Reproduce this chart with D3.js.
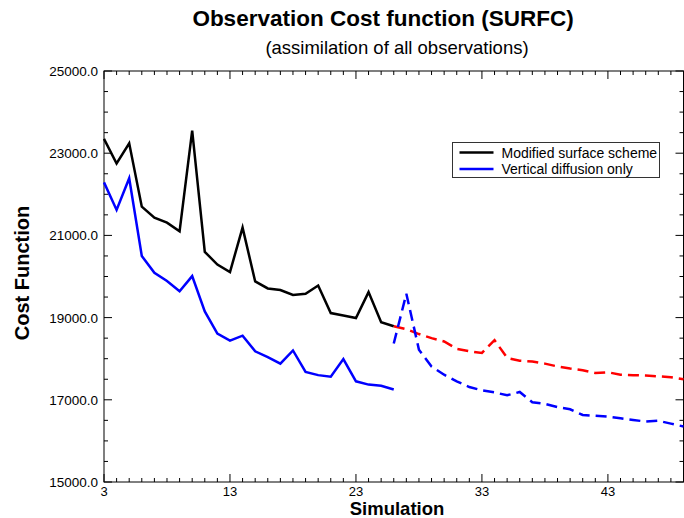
<html>
<head>
<style>
    body {margin: 0; background: #fff;}
    text {font-family: "Liberation Sans", Arial, sans-serif; fill: black;}
</style>
<script src="https://d3js.org/d3.v7.min.js"></script>
</head>
<body>
<script>

    // simulations (x) and cost function values
    var simSolid = d3.range(3, 27);
    var simDashed = d3.range(26, 50);

    var modifiedCost = [23350, 22750, 23240, 21700, 21430, 21310, 21100, 23550, 20600, 20290,
        20110, 21190, 19880, 19710, 19670, 19550, 19580, 19780, 19110, 19050, 18990, 19620, 18890, 18790];
    var verticalCost = [22290, 21620, 22390, 20500, 20090, 19890, 19640, 20010, 19150, 18610,
        18440, 18560, 18180, 18040, 17880, 18200, 17680, 17600, 17560, 17990, 17450, 17370, 17340, 17250];
    var modifiedCostDashed = [18790, 18720, 18600, 18500, 18420, 18240, 18180, 18140, 18450, 18020,
        17950, 17930, 17880, 17810, 17760, 17720, 17650, 17670, 17610, 17600, 17590, 17570, 17550, 17500];
    var verticalCostDashed = [18370, 19580, 18220, 17810, 17610, 17450, 17310, 17230, 17180, 17110,
        17190, 16940, 16900, 16820, 16770, 16630, 16610, 16590, 16550, 16510, 16470, 16490, 16420, 16350];

    var xTicks = [3, 13, 23, 33, 43];
    var yTicks = [15000, 17000, 19000, 21000, 23000, 25000];
    var legendLabels = ["Modified surface scheme", "Vertical diffusion only"];
    var legendColors = ["black", "blue"];

    var width = 684, height = 518;
    var plotLeft = 104, plotRight = 683.5, plotTop = 71, plotBottom = 482;

    var svg = d3.select("body").append("svg")
        .attr("width", width)
        .attr("height", height);

    var x = d3.scaleLinear().domain([3, 49]).range([plotLeft, plotRight]);
    var y = d3.scaleLinear().domain([15000, 25000]).range([plotBottom, plotTop]);

    // frame with inward ticks
    var frame = svg.append("g").attr("stroke", "black").attr("stroke-width", 1);
    frame.append("rect")
        .attr("x", plotLeft).attr("y", plotTop)
        .attr("width", plotRight - plotLeft).attr("height", plotBottom - plotTop)
        .attr("fill", "none");

    var xMinor = d3.range(3, 50);
    var yMinor = d3.range(15000, 25001, 500);

    xMinor.forEach(function (d) {
        var len = (d - 3) % 10 == 0 ? 8 : 4;
        frame.append("line").attr("x1", x(d)).attr("x2", x(d)).attr("y1", plotBottom).attr("y2", plotBottom - len);
        frame.append("line").attr("x1", x(d)).attr("x2", x(d)).attr("y1", plotTop).attr("y2", plotTop + len);
    });
    yMinor.forEach(function (d) {
        var len = d % 2000 == 1000 ? 8 : 4;
        frame.append("line").attr("x1", plotLeft).attr("x2", plotLeft + len).attr("y1", y(d)).attr("y2", y(d));
        frame.append("line").attr("x1", plotRight).attr("x2", plotRight - len).attr("y1", y(d)).attr("y2", y(d));
    });

    svg.append("g").selectAll("text")
        .data(yTicks)
        .enter().append("text")
        .attr("x", plotLeft - 6)
        .attr("y", function (d) { return y(d) + 5; })
        .attr("text-anchor", "end")
        .style("font-size", "13.5px")
        .text(function (d) { return d3.format(".1f")(d); });

    svg.append("g").selectAll("text")
        .data(xTicks)
        .enter().append("text")
        .attr("x", function (d) { return x(d); })
        .attr("y", plotBottom + 14)
        .attr("text-anchor", "middle")
        .style("font-size", "13px")
        .text(function (d) { return d; });

    // lines
    var line = d3.line()
        .x(function (d) { return x(d[0]); })
        .y(function (d) { return y(d[1]); });

    function draw(xs, ys, color, dashed) {
        svg.append("path")
            .datum(d3.zip(xs, ys))
            .attr("d", line)
            .attr("fill", "none")
            .attr("stroke", color)
            .attr("stroke-width", 2.5)
            .attr("stroke-linejoin", "miter")
            .attr("stroke-dasharray", dashed ? "11,6" : null);
    }

    draw(simSolid, modifiedCost, "black", false);
    draw(simSolid, verticalCost, "blue", false);
    draw(simDashed, modifiedCostDashed, "red", true);
    draw(simDashed, verticalCostDashed, "blue", true);

    // legend
    var legend = svg.append("g").attr("transform", "translate(452.5,142.5)");
    legend.append("rect")
        .attr("width", 207).attr("height", 35)
        .attr("fill", "white").attr("stroke", "#333").attr("stroke-width", 1);
    legendLabels.forEach(function (d, i) {
        var ly = 10 + i * 16.5;
        legend.append("line")
            .attr("x1", 7).attr("x2", 41).attr("y1", ly).attr("y2", ly)
            .attr("stroke", legendColors[i]).attr("stroke-width", 2.5);
        legend.append("text")
            .attr("x", 49).attr("y", ly + 5)
            .style("font-size", "14px")
            .text(d);
    });

    // titles
    svg.append("text")
        .attr("x", 383).attr("y", 26)
        .attr("text-anchor", "middle")
        .style("font-size", "22.5px").style("font-weight", "bold")
        .text("Observation Cost function (SURFC)");
    svg.append("text")
        .attr("x", 397).attr("y", 54)
        .attr("text-anchor", "middle")
        .style("font-size", "18.5px")
        .text("(assimilation of all observations)");
    svg.append("text")
        .attr("x", 397).attr("y", 515)
        .attr("text-anchor", "middle")
        .style("font-size", "18.5px").style("font-weight", "bold")
        .text("Simulation");
    svg.append("text")
        .attr("transform", "translate(29,273) rotate(-90)")
        .attr("text-anchor", "middle")
        .style("font-size", "20px").style("font-weight", "bold")
        .text("Cost Function");

</script>
</body>
</html>
